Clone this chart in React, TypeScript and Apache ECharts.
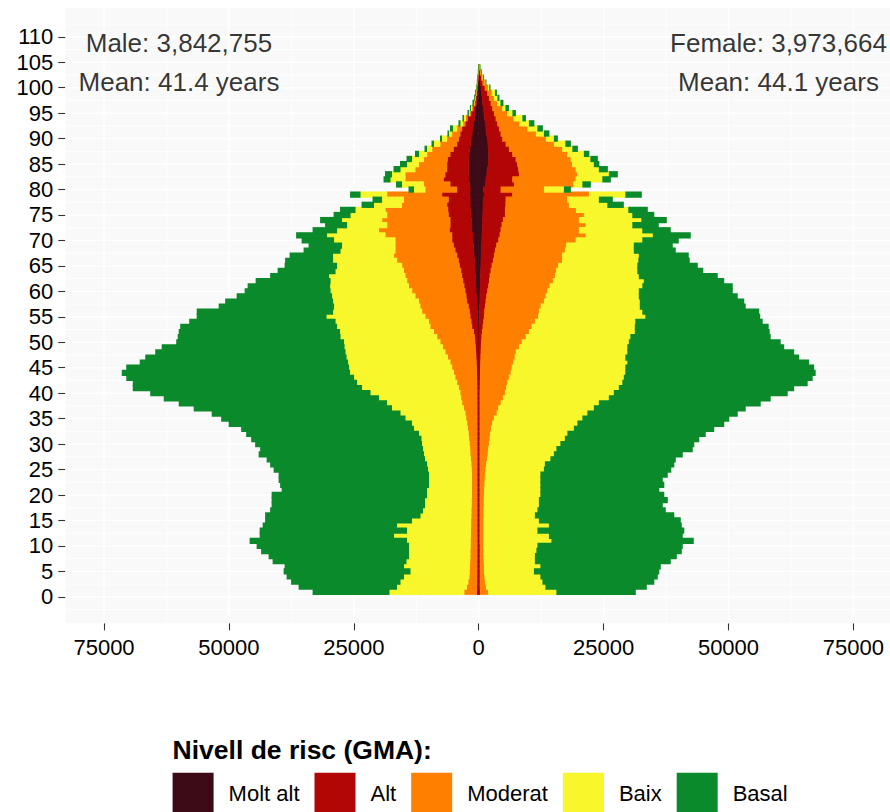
import React, { useEffect, useRef } from 'react';
import * as echarts from 'echarts';

const FONT = "'Liberation Sans', Arial, Helvetica, sans-serif";

// Single-year age bars (first bar sits just above the 0 gridline)
const ages: number[] = Array.from({ length: 104 }, (_, i) => i + 1);

const levels = ['Molt alt', 'Alt', 'Moderat', 'Baix', 'Basal'];
const levelColors = ['#3D0B18', '#B20505', '#FF8000', '#F7F72B', '#0A8A2B'];

// ---- MALE: cumulative outer edge of each risk level (people) ----
const maleMoltAltEdge = [
  30, 30, 30, 30, 30, 30, 30, 30, 30, 30,
  30, 30, 30, 30, 30, 30, 30, 30, 30, 30,
  30, 30, 30, 30, 30, 30, 30, 30, 30, 30,
  40, 40, 40, 40, 40, 40, 40, 40, 40, 40,
  45, 50, 55, 60, 65, 70, 75, 80, 85, 90,
  95, 100, 130, 170, 200, 230, 280, 330, 400, 500,
  550, 600, 650, 700, 770, 830, 900, 970, 1030, 1170,
  1200, 1370, 1400, 1450, 1570, 1630, 1700, 1700, 1830, 1700,
  1830, 1970, 2030, 2030, 2030, 2030, 1900, 1770, 1630, 1500,
  1300, 1170, 1000, 830, 700, 570, 430, 330, 270, 200, 130, 80, 50, 25,
];
const maleAltEdge = [
  400, 370, 350, 340, 330, 320, 320, 310, 310, 300,
  300, 300, 300, 300, 300, 300, 300, 300, 300, 300,
  300, 300, 300, 300, 300, 300, 300, 300, 300, 300,
  300, 300, 300, 300, 300, 300, 310, 310, 320, 320,
  330, 350, 370, 400, 430, 470, 520, 580, 650, 730,
  830, 1000, 1350, 1500, 1700, 1850, 2050, 2350, 2500, 2700,
  2900, 3150, 3350, 3550, 3850, 4050, 4350, 4700, 5050, 5350,
  5350, 5850, 5700, 5700, 6050, 6150, 6350, 6050, 7350, 4350,
  5700, 7050, 6700, 6350, 6350, 6250, 5700, 5050, 4350, 4000,
  3700, 3350, 2700, 2250, 1550, 1100, 700, 560, 430, 300, 230, 130, 80, 40,
];
const maleModeratEdge = [
  2900, 2400, 2100, 1900, 1850, 1800, 1750, 1700, 1700, 1650,
  1650, 1600, 1600, 1550, 1550, 1500, 1500, 1450, 1450, 1400,
  1400, 1400, 1400, 1400, 1450, 1500, 1600, 1700, 1750, 1850,
  1950, 2050, 2200, 2350, 2550, 2700, 3000, 3350, 3550, 3700,
  4000, 4350, 4700, 5000, 5350, 5700, 6200, 6700, 7200, 7700,
  8350, 9000, 9700, 10000, 10700, 11350, 11700, 12000, 12700, 13350,
  14000, 14350, 14700, 15000, 15350, 16350, 17000, 16700, 16700, 16700,
  18700, 20000, 18350, 19350, 18350, 18700, 15400, 15000, 18350, 10700,
  11000, 14700, 14700, 12700, 12000, 11000, 10350, 9350, 7700, 6350,
  5350, 4350, 3150, 2600, 1800, 1350, 900, 730, 560, 400, 290, 170, 100, 50,
];
const maleBaixEdge = [
  17900, 16400, 15700, 15000, 13700, 15000, 14500, 14000, 14000, 14000,
  14400, 17000, 14400, 16400, 13400, 11700, 11200, 10800, 10800, 10400,
  10400, 10000, 10000, 10000, 10200, 10400, 10800, 11000, 11200, 11400,
  11500, 12000, 13000, 13400, 14700, 15700, 17400, 18400, 20000, 21700,
  23400, 24400, 25000, 25800, 26000, 26200, 26500, 26700, 26900, 27000,
  27700, 27800, 28400, 28700, 30500, 29200, 29000, 29200, 29400, 29700,
  29800, 29700, 30000, 28700, 28400, 29200, 29200, 27700, 27400, 29000,
  30400, 28400, 26400, 27400, 25700, 24700, 21000, 19400, 23700, 13000,
  15400, 17700, 17400, 15700, 14400, 13400, 12000, 10400, 9000, 7400,
  6000, 5200, 3700, 3000, 2000, 1600, 1000, 830, 630, 470, 310, 185, 110, 55,
];
const maleBasalEdge = [
  33200, 36000, 37500, 38400, 39000, 38800, 41200, 42000, 43500, 44400,
  45800, 43800, 43800, 43200, 42700, 42700, 41700, 41400, 41400, 41400,
  39400, 39700, 40000, 40000, 41000, 41700, 42400, 44000, 43700, 44700,
  45500, 46500, 47500, 50000, 51500, 53400, 57000, 60000, 63000, 65700,
  69200, 69200, 70500, 71400, 70500, 67800, 66700, 64700, 63400, 60500,
  60200, 60000, 59700, 57900, 56400, 56400, 52000, 50700, 48400, 46800,
  46200, 44600, 41700, 40200, 38800, 38700, 37800, 35000, 34000, 35400,
  36500, 33200, 30700, 31700, 29000, 27700, 23400, 21200, 25700, 14000,
  16500, 19000, 18700, 17000, 15700, 14400, 12700, 10800, 9400, 7700,
  6200, 5700, 4000, 3200, 2200, 1700, 1200, 900, 700, 500, 330, 200, 120, 60,
];

// ---- FEMALE: cumulative outer edge of each risk level (people) ----
const femaleMoltAltEdge = [
  30, 30, 30, 30, 30, 30, 30, 30, 30, 30,
  30, 30, 30, 30, 30, 30, 30, 30, 30, 30,
  30, 30, 30, 30, 30, 30, 30, 30, 30, 30,
  30, 30, 30, 30, 30, 30, 30, 30, 30, 30,
  40, 40, 45, 45, 50, 50, 55, 55, 60, 65,
  70, 80, 100, 120, 140, 160, 180, 200, 230, 260,
  290, 320, 350, 380, 410, 440, 480, 520, 560, 600,
  650, 700, 730, 770, 800, 830, 850, 900, 1100, 950,
  1300, 1430, 1600, 1770, 1900, 1970, 1970, 1900, 1830, 1700,
  1570, 1430, 1300, 1170, 1030, 900, 770, 700, 600, 450, 300, 220, 130, 70,
];
const femaleAltEdge = [
  300, 250, 250, 250, 250, 250, 250, 250, 250, 250,
  220, 220, 220, 220, 220, 220, 220, 220, 220, 220,
  220, 220, 220, 220, 220, 220, 220, 220, 220, 220,
  230, 230, 230, 230, 230, 230, 230, 230, 230, 230,
  250, 270, 290, 310, 340, 370, 400, 440, 480, 530,
  600, 700, 830, 970, 1100, 1170, 1300, 1430, 1570, 1770,
  1970, 2100, 2230, 2430, 2630, 2900, 3100, 3300, 3570, 3970,
  4230, 4430, 4630, 4900, 5300, 5300, 5400, 5430, 6770, 4430,
  7100, 6770, 8100, 7970, 7770, 7430, 6770, 6100, 5430, 4770,
  4430, 4100, 3770, 3430, 3100, 2770, 2430, 2100, 1770, 1250, 800, 550, 330, 170,
];
const femaleModeratEdge = [
  1900, 1500, 1300, 1200, 1100, 1100, 1050, 1000, 1000, 950,
  950, 950, 950, 950, 950, 1000, 1000, 1050, 1050, 1100,
  1150, 1200, 1250, 1300, 1400, 1550, 1700, 1850, 1950, 2100,
  2250, 2350, 2500, 2750, 3100, 3650, 3950, 4450, 4900, 5300,
  5550, 5750, 6100, 6450, 6650, 6950, 7250, 7450, 8100, 8650,
  9450, 10100, 10650, 11300, 11950, 12100, 12450, 13100, 13450, 13750,
  14250, 14900, 15300, 15550, 15950, 16750, 16750, 17300, 17550, 19450,
  21450, 20100, 21450, 20100, 21100, 19500, 18100, 17750, 22100, 13100,
  19000, 19450, 19750, 19450, 18750, 18450, 17750, 16750, 15100, 13500,
  11500, 9800, 8200, 7000, 5750, 4750, 3750, 3100, 2650, 1900, 1250, 800, 470, 230,
];
const femaleBaixEdge = [
  15600, 13400, 12800, 12400, 11100, 12400, 11300, 11300, 11600, 11800,
  14600, 14100, 11800, 14100, 12100, 11300, 11800, 12100, 12100, 12400,
  12400, 12400, 12400, 12400, 13100, 13300, 14400, 15100, 15600, 16400,
  17300, 17800, 19100, 19800, 20800, 21800, 23100, 24100, 26100, 27100,
  28100, 28800, 29100, 29400, 29400, 29800, 29400, 29800, 29800, 30100,
  30400, 31300, 31300, 31400, 33400, 32800, 32300, 32300, 32100, 32100,
  32800, 33100, 32100, 31800, 31800, 32000, 32100, 31100, 31100, 32800,
  34900, 32800, 30800, 32600, 30800, 30000, 25800, 24100, 29400, 17100,
  20800, 24800, 26100, 24100, 23100, 22400, 21100, 18800, 17400, 15100,
  13100, 11800, 10100, 8800, 6800, 5400, 4400, 3800, 3300, 2150, 1400, 930, 550, 270,
];
const femaleBasalEdge = [
  31400, 33600, 35100, 35800, 36100, 36400, 38400, 39600, 40600, 40800,
  43000, 40800, 41100, 40600, 40400, 39100, 37400, 36800, 37800, 37100,
  36100, 37100, 36800, 37800, 38500, 39100, 39400, 40800, 42800, 43100,
  44100, 45400, 47100, 49100, 50100, 51800, 53400, 56400, 58400, 61800,
  63100, 65800, 66800, 67400, 67100, 66100, 64100, 63100, 61100, 60400,
  58400, 58200, 58000, 56800, 56300, 56100, 53400, 53100, 51800, 50800,
  50800, 49100, 47800, 44900, 43800, 42200, 42000, 39400, 38800, 40000,
  42400, 38400, 36000, 37600, 35100, 33800, 29000, 26800, 32600, 18400,
  22400, 26400, 27800, 25800, 24100, 23800, 22100, 19800, 18400, 15800,
  14100, 12800, 11100, 9400, 7400, 6000, 4900, 4100, 3600, 2300, 1500, 1000, 600, 300,
];

// Axis ticks / gridlines
const xTickValues = [-75000, -50000, -25000, 0, 25000, 50000, 75000];
const xMinorValues = [-62500, -37500, -12500, 12500, 37500, 62500];
const yTickValues = [0, 5, 10, 15, 20, 25, 30, 35, 40, 45, 50, 55, 60, 65, 70, 75, 80, 85, 90, 95, 100, 105, 110];
const yMinorValues = [-2.5, 2.5, 7.5, 12.5, 17.5, 22.5, 27.5, 32.5, 37.5, 42.5, 47.5, 52.5, 57.5, 62.5, 67.5, 72.5, 77.5, 82.5, 87.5, 92.5, 97.5, 102.5, 107.5, 112.5];

// Annotation texts
const maleTotalText = 'Male: 3,842,755';
const maleMeanText = 'Mean: 41.4 years';
const femaleTotalText = 'Female: 3,973,664';
const femaleMeanText = 'Mean: 44.1 years';
const legendTitle = 'Nivell de risc (GMA):';

function buildOption() {
  const maleEdges = [maleMoltAltEdge, maleAltEdge, maleModeratEdge, maleBaixEdge, maleBasalEdge];
  const femaleEdges = [femaleMoltAltEdge, femaleAltEdge, femaleModeratEdge, femaleBaixEdge, femaleBasalEdge];

  const renderBar = (color: string) => (params: any, api: any) => {
    const age = api.value(0);
    const from = api.value(1);
    const to = api.value(2);
    if (from === to) return { type: 'group', children: [] };
    const a = api.coord([from, age + 0.5]);
    const b = api.coord([to, age - 0.5]);
    const x = Math.min(a[0], b[0]);
    const w = Math.abs(b[0] - a[0]);
    const y = Math.min(a[1], b[1]);
    const h = Math.abs(b[1] - a[1]);
    // slight overlap with neighbouring rows / layers to avoid anti-alias seams
    return {
      type: 'rect',
      shape: { x: x - 0.25, y: y - 0.6, width: w + 0.5, height: h + 1.2 },
      style: { fill: color },
    };
  };

  const series: any[] = [];

  // panel gridlines
  series.push({
    type: 'custom',
    name: 'vgrid',
    silent: true,
    z: 1,
    encode: { x: 0 },
    data: [...xTickValues.map((v) => [v, 1]), ...xMinorValues.map((v) => [v, 0])],
    renderItem: (params: any, api: any) => {
      const cs = params.coordSys;
      const x = api.coord([api.value(0), 0])[0];
      return {
        type: 'line',
        shape: { x1: x, y1: cs.y, x2: x, y2: cs.y + cs.height },
        style: { stroke: '#FFFFFF', lineWidth: api.value(1) === 1 ? 1.4 : 0.9 },
      };
    },
  });
  series.push({
    type: 'custom',
    name: 'hgrid',
    silent: true,
    z: 1,
    encode: { y: 0 },
    data: [...yTickValues.map((v) => [v, 1]), ...yMinorValues.map((v) => [v, 0])],
    renderItem: (params: any, api: any) => {
      const cs = params.coordSys;
      const y = api.coord([0, api.value(0)])[1];
      return {
        type: 'line',
        shape: { x1: cs.x, y1: y, x2: cs.x + cs.width, y2: y },
        style: { stroke: '#FFFFFF', lineWidth: api.value(1) === 1 ? 1.4 : 0.9 },
      };
    },
  });

  levels.forEach((name, k) => {
    const color = levelColors[k];
    const sides: [number[][], number][] = [
      [maleEdges, -1],
      [femaleEdges, 1],
    ];
    sides.forEach(([edges, sign]) => {
      const data = ages.map((age, i) => [
        age,
        sign * (k === 0 ? 0 : edges[k - 1][i]),
        sign * edges[k][i],
      ]);
      series.push({
        type: 'custom',
        name,
        z: 3 + k,
        silent: true,
        itemStyle: { color },
        encode: { x: [1, 2], y: 0 },
        data,
        renderItem: renderBar(color),
      });
    });
  });

  series.push({
    type: 'scatter',
    name: 'notes',
    silent: true,
    z: 10,
    symbolSize: 1,
    itemStyle: { color: 'rgba(0,0,0,0)' },
    data: [
      { name: maleTotalText, value: [-60000, 108.7] },
      { name: maleMeanText, value: [-60000, 101.2] },
      { name: femaleTotalText, value: [60000, 108.7] },
      { name: femaleMeanText, value: [60000, 101.2] },
    ],
    label: {
      show: true,
      position: 'inside',
      formatter: '{b}',
      fontSize: 26,
      color: '#000000',
      fontFamily: FONT,
    },
  });

  return {
    animation: false,
    backgroundColor: '#FFFFFF',
    textStyle: { fontFamily: FONT },
    title: {
      text: legendTitle,
      left: 172.6,
      top: 736,
      padding: 0,
      textStyle: { fontSize: 26.5, fontWeight: 'bold', color: '#000000', fontFamily: FONT },
    },
    legend: {
      data: levels,
      left: 172.6,
      top: 772.7,
      padding: 0,
      itemWidth: 41,
      itemHeight: 42,
      itemGap: 15,
      icon: 'rect',
      selectedMode: false,
      textStyle: { fontSize: 22, color: '#000000', fontFamily: FONT, padding: [0, 0, 0, 10] },
    },
    grid: {
      left: 65.3,
      right: 0,
      top: 8.3,
      bottom: 188.7,
      show: true,
      backgroundColor: '#F9F9F9',
      borderWidth: 0,
    },
    xAxis: {
      type: 'value',
      min: -82750,
      max: 82330,
      axisLine: { show: false, onZero: false },
      splitLine: { show: false },
      axisTick: { show: true, length: 7, lineStyle: { color: '#333333', width: 1.1 }, customValues: xTickValues },
      axisLabel: {
        customValues: xTickValues,
        formatter: (v: number) => String(Math.abs(v)),
        fontSize: 22,
        color: '#000000',
        margin: 13,
        fontFamily: FONT,
      },
    },
    yAxis: {
      type: 'value',
      min: -5.2,
      max: 115.6,
      axisLine: { show: false, onZero: false },
      splitLine: { show: false },
      axisTick: { show: true, length: 7, lineStyle: { color: '#333333', width: 1.1 }, customValues: yTickValues },
      axisLabel: {
        customValues: yTickValues,
        formatter: (v: number) => String(v),
        fontSize: 22,
        color: '#000000',
        margin: 12,
        fontFamily: FONT,
      },
    },
    series,
  };
}

export default function App() {
  const ref = useRef<HTMLDivElement>(null);
  useEffect(() => {
    document.body.style.margin = '0';
    if (!ref.current) return;
    const chart = echarts.init(ref.current, undefined, { renderer: 'svg' });
    chart.setOption(buildOption() as any);
    return () => chart.dispose();
  }, []);
  return <div ref={ref} style={{ width: 890, height: 812, position: 'absolute', left: 0, top: 0 }} />;
}
